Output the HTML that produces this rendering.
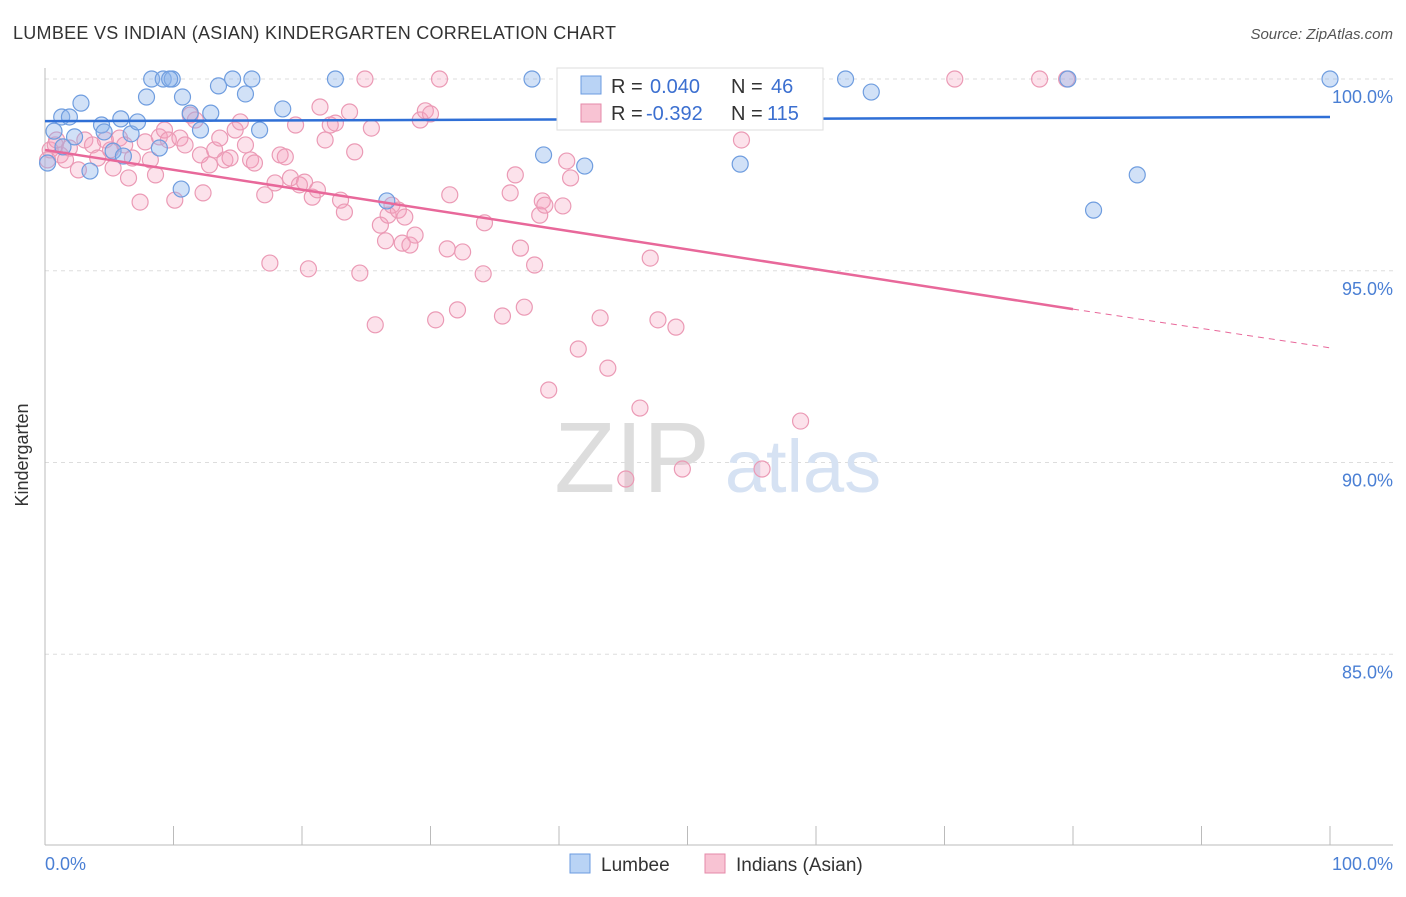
<!DOCTYPE html>
<html><head><meta charset="utf-8"><style>
body{margin:0;background:#fff;font-family:"Liberation Sans",sans-serif}
svg text{font-family:"Liberation Sans",sans-serif}
</style></head><body>
<svg id="chart" width="1406" height="892" viewBox="0 0 1406 892" xmlns="http://www.w3.org/2000/svg">
<text x="13" y="39" font-size="18" fill="#333" textLength="603">LUMBEE VS INDIAN (ASIAN) KINDERGARTEN CORRELATION CHART</text>
<text x="1393" y="39" font-size="15" fill="#555" font-style="italic" text-anchor="end">Source: ZipAtlas.com</text>
<g id="grid"></g>
<g><text x="632" y="492" font-size="100" fill="#ddd" font-family="Liberation Serif" text-anchor="middle">ZIP</text><text x="803" y="492" font-size="74" fill="#d6e2f3" text-anchor="middle">atlas</text></g>
<g id="axes"></g>
<g id="pts"></g>
<g id="lines"></g>
<text x="28" y="455" font-size="18" fill="#333" transform="rotate(-90 28 455)" text-anchor="middle">Kindergarten</text>
<text x="45" y="870" font-size="18" fill="#4a7fd4">0.0%</text>
<text x="1393" y="870" font-size="18" fill="#4a7fd4" text-anchor="end">100.0%</text>
<g>
<rect x="557" y="68" width="266" height="62" fill="#fff" stroke="#ddd"/>
<rect x="581" y="76" width="20" height="18" fill="#b9d3f5" stroke="#6b9be0"/>
<text x="611" y="93" font-size="20" fill="#333">R = <tspan x="650" fill="#3b6fd0">0.040</tspan><tspan x="731">N =</tspan><tspan x="771" fill="#3b6fd0">46</tspan></text>
<rect x="581" y="104" width="20" height="18" fill="#f8c3d3" stroke="#e58aa8"/>
<text x="611" y="120" font-size="20" fill="#333">R = <tspan x="646" fill="#3b6fd0">-0.392</tspan><tspan x="731">N =</tspan><tspan x="767" fill="#3b6fd0">115</tspan></text>
</g>
<g>
<rect x="570" y="854" width="20" height="19" fill="#b9d3f5" stroke="#6b9be0"/>
<text x="601" y="871" font-size="19" fill="#333">Lumbee</text>
<rect x="705" y="854" width="20" height="19" fill="#f8c3d3" stroke="#e58aa8"/>
<text x="736" y="871" font-size="19" fill="#333">Indians (Asian)</text>
</g>
</svg>
<script>
const yTicks=[100,95,90,85];
const xTickVals=[0,10,20,30,40,50,60,70,80,90,100];
const blueX=[0.7,1.3,2.8,1.9,2.3,3.5,4.4,4.6,5.3,5.9,6.1,6.7,7.2,7.9,8.3,8.9,9.2,9.9,10.6,10.7,11.3,12.1,12.9,13.5,14.6,15.6,16.1,16.7,18.5,22.6,26.6,37.9,38.8,42.0,54.1,62.3,64.3,79.6,81.6,85.0,100,0.2,1.4,9.7];
const blueY=[98.64,99.01,99.37,99.01,98.49,97.60,98.80,98.62,98.12,98.96,97.99,98.57,98.88,99.53,100,98.20,100,100,97.13,99.53,99.11,98.67,99.11,99.82,100,99.61,100,98.67,99.22,100,96.82,100,98.02,97.73,97.78,100,99.66,100,96.58,97.50,100,97.81,98.23,100];
const pinkX=[0.4,0.8,1.2,1.6,1.9,2.6,3.1,3.7,4.1,4.7,5.1,5.3,5.8,6.2,6.5,6.8,7.4,7.8,8.2,8.6,8.9,9.3,9.6,10.1,10.5,10.9,11.3,11.7,12.1,12.3,12.8,13.2,13.6,14.0,14.4,14.8,15.2,15.6,16.0,16.3,17.1,17.5,17.9,18.3,18.7,19.1,19.5,19.8,20.2,20.5,20.8,21.2,21.4,21.8,22.2,22.6,23.0,23.3,23.7,24.1,24.5,24.9,25.4,25.7,26.1,26.5,26.7,27.0,27.5,27.8,28.0,28.4,28.8,29.2,29.6,30.0,30.4,30.7,31.3,31.5,32.1,32.5,34.1,34.2,35.6,36.2,36.6,37.0,37.3,38.1,38.5,38.7,38.9,39.2,40.3,40.6,40.9,41.5,43.2,43.8,46.3,45.2,47.1,47.7,48.2,49.1,49.6,54.2,55.8,58.8,70.8,77.4,79.5,0.2,0.9];
const pinkY=[98.15,98.28,98.02,97.89,98.20,97.63,98.41,98.28,97.94,98.41,98.15,97.68,98.46,98.28,97.42,97.94,96.79,98.36,97.89,97.50,98.49,98.67,98.41,96.84,98.46,98.28,99.06,98.93,98.02,97.03,97.76,98.15,98.46,97.89,97.94,98.67,98.88,98.28,97.89,97.81,96.98,95.20,97.29,98.02,97.97,97.42,98.80,97.24,97.31,95.05,96.92,97.11,99.27,98.41,98.80,98.85,96.84,96.53,99.14,98.10,94.94,100,98.72,93.59,96.19,95.78,96.45,96.71,96.58,95.72,96.40,95.67,95.93,98.93,99.17,99.09,93.72,100,95.57,96.98,93.98,95.49,94.92,96.25,93.82,97.03,97.50,95.59,94.05,95.15,96.45,96.82,96.71,91.89,96.69,97.86,97.42,92.96,93.77,92.46,91.42,89.57,95.33,93.72,100,93.53,89.83,98.41,89.83,91.08,100,100,100,97.89,98.41];
const blueTrend=[98.9,99.01];
const pinkTrend=[98.15,94.0,92.99];
const NS='http://www.w3.org/2000/svg';
const X=v=>45+v*12.85, Y=v=>79+(100-v)*38.35;
function mk(t,a,p){const e=document.createElementNS(NS,t);for(const k in a)e.setAttribute(k,a[k]);p.appendChild(e);return e;}
const grid=document.getElementById('grid'),axes=document.getElementById('axes'),pts=document.getElementById('pts'),lines=document.getElementById('lines');
yTicks.forEach(v=>{
 const l=mk('line',{x1:45,x2:1393,y1:Y(v),y2:Y(v),stroke:'#ddd','stroke-dasharray':'4,4'},grid);
 
 
 const t=mk('text',{x:1393,y:Y(v)+24,'font-size':18,fill:'#4a7fd4','text-anchor':'end'},grid);
 t.textContent=v.toFixed(1)+'%';
 
 
});
mk('line',{x1:45,x2:45,y1:68,y2:845,stroke:'#bbb'},axes);
mk('line',{x1:45,x2:1393,y1:845,y2:845,stroke:'#bbb'},axes);
xTickVals.forEach(v=>{
 const l=mk('line',{x1:X(v),x2:X(v),y1:826,y2:845,stroke:'#bbb'},axes);
 
 
});
pinkX.forEach((x,i)=>{
 const c=mk('circle',{cx:X(x),cy:Y(pinkY[i]),r:8,fill:'rgba(244,160,190,0.3)',stroke:'#eb9ab5','stroke-width':1.2},pts);
 
 
});
blueX.forEach((x,i)=>{
 const c=mk('circle',{cx:X(x),cy:Y(blueY[i]),r:8,fill:'rgba(140,180,235,0.4)',stroke:'#6f9ddf','stroke-width':1.2},pts);
 
 
});
const bl=mk('line',{x1:X(0),y1:Y(blueTrend[0]),x2:X(100),y2:Y(blueTrend[1]),stroke:'#2f6fd6','stroke-width':2.5},lines);


const pl=mk('line',{x1:X(0),y1:Y(pinkTrend[0]),x2:X(80),y2:Y(pinkTrend[1]),stroke:'#e8689a','stroke-width':2.5},lines);


const pd=mk('line',{x1:X(80),y1:Y(pinkTrend[1]),x2:X(100),y2:Y(pinkTrend[2]),stroke:'#e8689a','stroke-width':1,'stroke-dasharray':'6,5'},lines);


</script>
</body></html>
